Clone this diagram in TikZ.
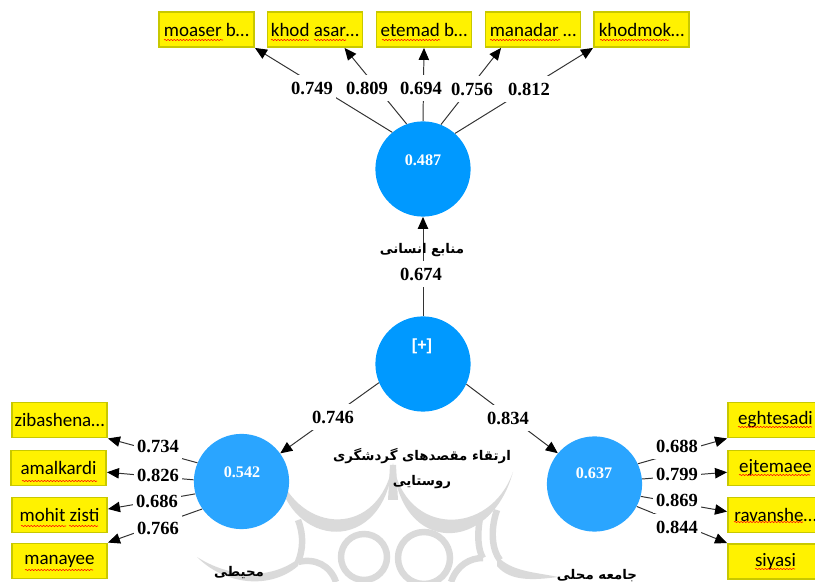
\documentclass[tikz,border=0pt]{standalone}
\usepackage{fontspec}
\setmainfont{Liberation Serif}
\newfontfamily\boxfont{Carlito}
\newfontfamily\plusfont{Liberation Sans}
\newfontfamily\arabicfont[Script=Arabic]{DejaVu Sans}
\TeXXeTstate=1
\usetikzlibrary{arrows.meta,decorations.pathmorphing}
\definecolor{latentdark}{HTML}{0099FF}
\definecolor{latentlight}{HTML}{2AA5FF}
\definecolor{boxedge}{HTML}{C8C800}
\definecolor{markgray}{HTML}{DADADA}

\begin{document}
\begin{tikzpicture}[x=0.025cm,y=0.025cm]
\tikzstyle{every node}+=[inner sep=0pt]
\tikzstyle{latent}=[circle,minimum size=2.38cm]
\tikzstyle{indicator}=[draw=boxedge,fill=yellow,line width=1.2pt,minimum width=2.38cm,minimum height=0.88cm,font=\boxfont\fontsize{13.5}{15}\selectfont]
\tikzstyle{loading}=[fill=white,inner xsep=2.5pt,inner ysep=4.5pt,font=\bfseries\fontsize{13.2}{15}\selectfont]
\tikzstyle{rsq}=[text=white,font=\bfseries\fontsize{11.5}{13}\selectfont]
\tikzstyle{farsi}=[font=\arabicfont\bfseries\fontsize{9.5}{12}\selectfont]
\tikzstyle{conn}=[draw=black!80,line width=0.7pt,-{Triangle[length=3mm,width=2.6mm,black]}]
\tikzstyle{spell}=[red,line width=0.4pt,decorate,decoration={snake,amplitude=0.4pt,segment length=2.2pt}]
\tikzstyle{markline}=[draw=markgray,line width=4.6pt]
\useasboundingbox (0,0) rectangle (815,-582);
% watermark
\fill [markgray] (277,-470) .. controls (288,-550) and (385,-557) .. (393,-463) .. controls (380,-538) and (300,-536) .. (277,-470);
\fill [markgray] (393,-463) .. controls (400,-555) and (490,-555) .. (513,-472) .. controls (490,-537) and (405,-537) .. (393,-463);
\fill [markgray] (390,-465) -- (396,-465) -- (398,-500) -- (388,-500);
\draw [markline] (298,-520) .. controls (304,-535) and (303,-550) .. (298,-562);
\draw [markline] (298,-562) .. controls (315,-558) and (330,-565) .. (336,-582);
\draw [markline] (480,-518) .. controls (477,-535) and (478,-550) .. (483,-558);
\draw [markline] (483,-558) .. controls (470,-558) and (457,-565) .. (451,-582);
\draw [markline] (497,-510) .. controls (490,-530) and (492,-550) .. (500,-560);
\fill [markgray] (497,-556) .. controls (512,-572) and (535,-572) .. (558,-577) .. controls (535,-580) and (510,-582) .. (497,-566);
\fill [markgray] (197,-557) .. controls (230,-578) and (270,-580) .. (298,-559) -- (298,-566) .. controls (270,-590) and (225,-585) .. (197,-557);
\draw [markline] (364,-557) circle (23);
\draw [markline] (424,-558) circle (26);
% latent variables
\node [latent,fill=latentdark] (human) at (423,-169) {};
\node [latent,fill=latentdark] (tourism) at (423,-364) {};
\node [latent,fill=latentlight] (enviro) at (241.5,-481.5) {};
\node [latent,fill=latentlight] (local) at (594.5,-484) {};
\node [rsq] (humanval) at (423,-160) {0.487};
\node [rsq,font=\plusfont\bfseries\fontsize{11.5}{13}\selectfont] (tourismval) at (422,-346) {[+]};
\node [rsq] (enviroval) at (242,-472) {0.542};
\node [rsq] (localval) at (594,-473) {0.637};
% indicators
\node [indicator] (moaser) at (206.5,-29.5) {moaser b…};
\node [indicator] (khodasar) at (315,-29.5) {khod asar…};
\node [indicator] (etemad) at (424,-29.5) {etemad b…};
\node [indicator] (manadar) at (533,-29.5) {manadar …};
\node [indicator] (khodmok) at (641.5,-29.5) {khodmok…};
\node [indicator] (ziba) at (59.5,-420) {zibashena…};
\node [indicator] (amal) at (58.5,-468) {amalkardi};
\node [indicator] (mohit) at (59.5,-515) {mohit zisti};
\node [indicator] (manayee) at (59.5,-561) {manayee};
\node [indicator] (eghtesadi) at (775.5,-420) {eghtesadi};
\node [indicator] (ejtemaee) at (775.5,-468) {ejtemaee};
\node [indicator] (ravanshe) at (775.5,-515) {ravanshe…};
\node [indicator] (siyasi) at (775.5,-561.5) {siyasi};
\draw [spell] (164,-40) -- (223,-40);
\draw [spell] (271,-40) -- (309,-40);
\draw [spell] (314,-40) -- (346,-40);
\draw [spell] (382,-40) -- (440,-40);
\draw [spell] (490,-40) -- (560,-40);
\draw [spell] (600,-40) -- (669,-40);
\draw [spell] (22,-481) -- (97,-481);
\draw [spell] (21,-526) -- (66,-526);
\draw [spell] (69,-526) -- (98,-526);
\draw [spell] (25,-570) -- (93,-570);
\draw [spell] (738,-427) -- (812,-427);
\draw [spell] (739,-475) -- (810,-475);
\draw [spell] (734,-522) -- (803,-522);
\draw [spell] (755,-569) -- (795,-569);
% connectors
\draw [conn] (human.130) -- (moaser.south east);
\draw [conn] (human.110) -- (khodasar.-32);
\draw [conn] (human.90) -- (etemad.south);
\draw [conn] (human.68) -- (manadar.-150);
\draw [conn] (human.48) -- (khodmok.south west);
\draw [conn] (tourism) -- (human);
\draw [conn] (tourism.203) -- (enviro.36);
\draw [conn] (tourism.-25) -- (local.140);
\draw [conn] (enviro.157) -- (ziba.south east);
\draw [conn] (enviro.178) -- (amal.-5);
\draw [conn] (enviro.195) -- (mohit.7);
\draw [conn] (enviro.215) -- (manayee.north east);
\draw [conn] (local.25) -- (eghtesadi.south west);
\draw [conn] (local.6) -- (ejtemaee.185);
\draw [conn] (local.-15) -- (ravanshe.176);
\draw [conn] (local.-28) -- (siyasi.north west);
% loadings
\node [loading] (l1) at (312,-88) {0.749};
\node [loading] (l2) at (367,-88) {0.809};
\node [loading] (l3) at (421,-88) {0.694};
\node [loading] (l4) at (472,-89) {0.756};
\node [loading] (l5) at (529,-89) {0.812};
\node [loading] (l6) at (421,-274) {0.674};
\node [loading] (l7) at (333,-417) {0.746};
\node [loading] (l8) at (508,-418) {0.834};
\node [loading] (l9) at (158,-446) {0.734};
\node [loading] (l10) at (158,-475) {0.826};
\node [loading] (l11) at (157,-501) {0.686};
\node [loading] (l12) at (158,-528) {0.766};
\node [loading] (l13) at (677,-446) {0.688};
\node [loading] (l14) at (677,-474) {0.799};
\node [loading] (l15) at (677,-500) {0.869};
\node [loading] (l16) at (677,-527) {0.844};
% construct names
\node [farsi] (humanname) at (422,-250) {\beginR منابع انسانی\endR};
\node [farsi] (tourismname) at (422,-456) {\beginR ارتقاء مقصدهای گردشگری\endR};
\node [farsi] (tourismname2) at (422,-482) {\beginR روستایی\endR};
\node [farsi] (environame) at (239,-573) {\beginR محیطی\endR};
\node [farsi] (localname) at (597,-576) {\beginR جامعه محلی\endR};
\end{tikzpicture}
\end{document}
